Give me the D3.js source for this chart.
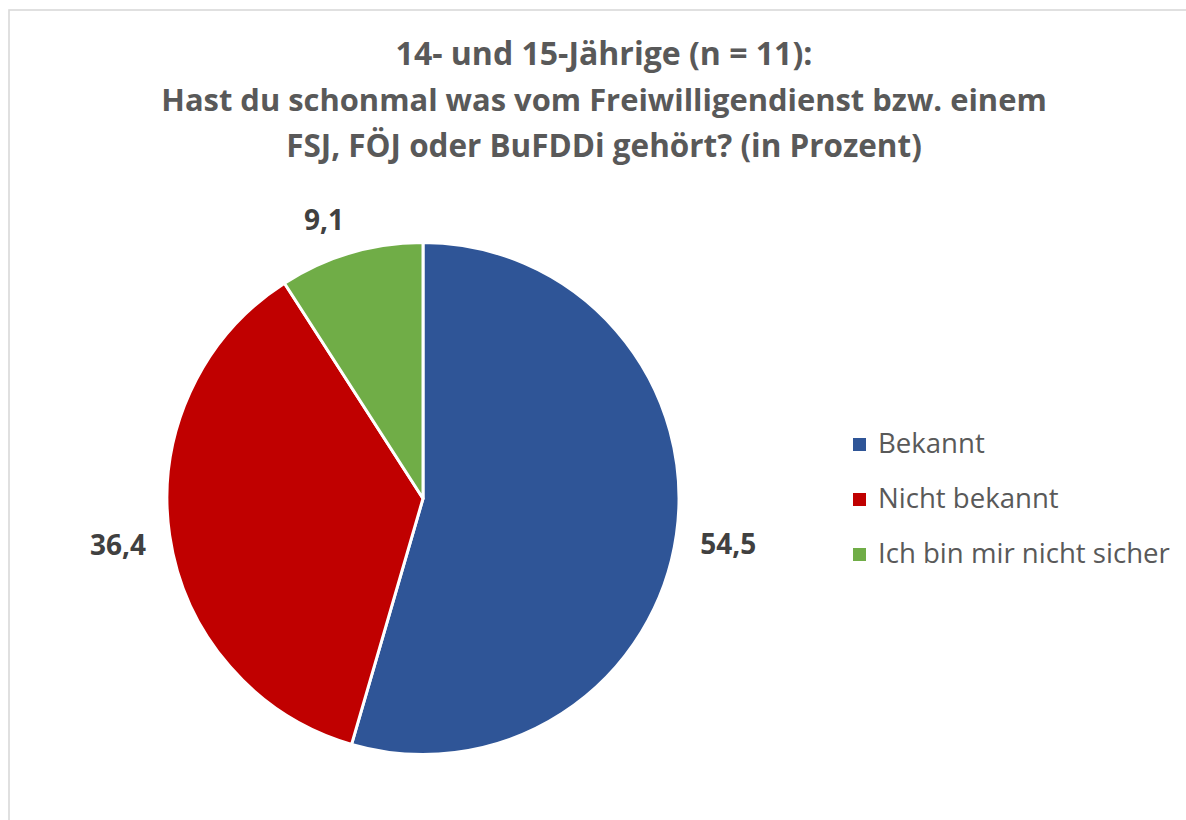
<!DOCTYPE html>
<html>
<head>
<meta charset="utf-8">
<script src="https://cdn.jsdelivr.net/npm/d3@7"></script>
<style>
  html, body { margin: 0; padding: 0; background: #fff; }
  svg { display: block; }
</style>
</head>
<body>
<svg id="chart" width="1186" height="820"></svg>
<script>
// ---- data ----
const titleLines = [
  "14- und 15-Jährige (n = 11):",
  "Hast du schonmal was vom Freiwilligendienst bzw. einem",
  "FSJ, FÖJ oder BuFDDi gehört? (in Prozent)"
];
const categories = ["Bekannt", "Nicht bekannt", "Ich bin mir nicht sicher"];
const values = [54.5, 36.4, 9.1];
const valueLabels = ["54,5", "36,4", "9,1"];
const colors = ["#2F5597", "#C00000", "#70AD47"];

// ---- layout ----
const svg = d3.select("#chart");
const FONT = "'Open Sans', 'Noto Sans', sans-serif";

// fit font size so text width matches target
function fitText(sel, target, base) {
  sel.attr("font-size", base);
  const w = sel.node().getComputedTextLength();
  const fs = base * target / w;
  sel.attr("font-size", fs);
  return fs;
}

// chart border
svg.append("rect")
  .attr("x", 9).attr("y", 10)
  .attr("width", 1300).attr("height", 1000)
  .attr("fill", "#fff")
  .attr("stroke", "#d9d9d9").attr("stroke-width", 1.6);

// title
const titleCx = 604;
const titleBaselines = [65, 111, 157];
const titleWidths = [417, 886, 636];
titleLines.forEach((t, i) => {
  const el = svg.append("text")
    .attr("x", titleCx).attr("y", titleBaselines[i])
    .attr("text-anchor", "middle")
    .attr("font-family", FONT).attr("font-weight", "bold")
    .attr("fill", "#595959")
    .text(t);
  fitText(el, titleWidths[i], 30);
});

// pie
const cx = 423, cy = 498.5, R = 256;
const pie = d3.pie().sort(null).value(d => d)(values);
const arc = d3.arc().innerRadius(0).outerRadius(R);
const g = svg.append("g").attr("transform", `translate(${cx},${cy})`);
g.selectAll("path.slice")
  .data(pie)
  .join("path")
  .attr("class", "slice")
  .attr("d", arc)
  .attr("fill", (d, i) => colors[i])
  .attr("stroke", "#fff")
  .attr("stroke-width", 3)
  .attr("stroke-linejoin", "round");

// data labels (outside end)
const labelR = 280;
const labelBase = 28;
pie.forEach((d, i) => {
  const a = (d.startAngle + d.endAngle) / 2;
  const sx = Math.sin(a), sy = -Math.cos(a);
  const px = sx * labelR, py = sy * labelR;
  const el = g.append("text")
    .attr("text-anchor", "middle")
    .attr("font-family", FONT).attr("font-weight", "bold")
    .attr("fill", "#404040")
    .attr("font-size", labelBase)
    .text(valueLabels[i]);
  const w = el.node().getComputedTextLength();
  const h = 21;
  const clamp = v => Math.max(-1, Math.min(1, v));
  const ccx = px + clamp(4 * sx) * w / 2;
  const ccy = py + clamp(4 * sy) * h / 2;
  el.attr("x", ccx).attr("y", ccy + h / 2);
});

// legend
const legX = 853, legTextX = 878;
const legBaselines = [453, 508, 563];
const leg = svg.append("g");
const longest = leg.append("text")
  .attr("font-family", FONT).attr("x", -1000).attr("y", -1000)
  .text(categories[2]);
const legFs = fitText(longest, 292, 24);
longest.remove();
categories.forEach((c, i) => {
  leg.append("rect")
    .attr("x", legX).attr("y", legBaselines[i] - 15)
    .attr("width", 13).attr("height", 13)
    .attr("fill", colors[i]);
  leg.append("text")
    .attr("x", legTextX).attr("y", legBaselines[i])
    .attr("font-family", FONT).attr("font-size", legFs)
    .attr("fill", "#595959")
    .text(c);
});
</script>
</body>
</html>
